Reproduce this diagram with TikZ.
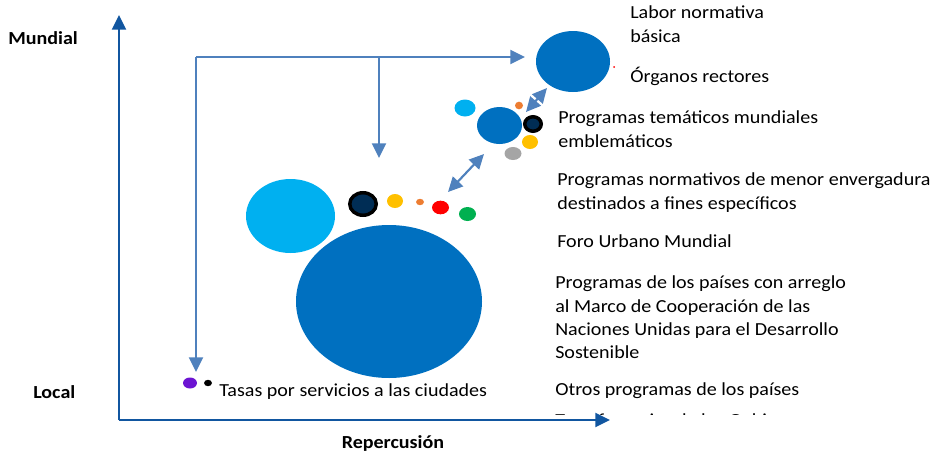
\documentclass[tikz,border=0pt]{standalone}
\usepackage{fontspec}
\setmainfont{Carlito}[FakeStretch=1.09]
\usetikzlibrary{arrows.meta,shapes.geometric}
\definecolor{axisblue}{RGB}{17,86,160}
\definecolor{connblue}{RGB}{79,129,189}
\definecolor{midblue}{RGB}{0,112,192}
\definecolor{skyblue}{RGB}{0,176,240}
\definecolor{navy}{RGB}{0,45,85}
\definecolor{orangeC}{RGB}{237,125,49}
\definecolor{yellowC}{RGB}{255,192,0}
\definecolor{grayC}{RGB}{165,165,165}
\definecolor{redC}{RGB}{255,0,0}
\definecolor{greenC}{RGB}{0,176,80}
\definecolor{purpleC}{RGB}{108,20,210}
\tikzset{
  blob/.style 2 args={ellipse, draw=none, inner sep=0pt, minimum width=#1*1.5pt, minimum height=#2*1.5pt},
  ring/.style 2 args={ellipse, draw=black, line width=2.6pt, fill=navy, inner sep=0pt, minimum width=#1*1.5pt-2.6pt, minimum height=#2*1.5pt-2.6pt},
  axis/.style={draw=axisblue, line width=1.6pt, -{Triangle[length=11pt,width=10.5pt]}},
  conn/.style={draw=connblue, line width=1.6pt, -{Triangle[length=11pt,width=10.5pt]}},
  dconn/.style={draw=connblue, line width=1.6pt, {Triangle[length=11pt,width=10.5pt]}-{Triangle[length=11pt,width=10.5pt]}},
  lbl/.style={anchor=base west, inner sep=0pt, font=\fontsize{13.8}{18}\selectfont},
  axlbl/.style={inner sep=0pt, font=\fontsize{13.8}{18}\selectfont\bfseries},
}
\begin{document}
\begin{tikzpicture}[x=0.75pt,y=-0.75pt]
\useasboundingbox (0,0) rectangle (933,454);
% axes
\coordinate (origin) at (119,420);
\coordinate (ytip) at (119,15);
\coordinate (xtip) at (610,420);
\draw[axis] (origin) -- (ytip);
\draw[axis] (origin) -- (xtip);
\node[axlbl, anchor=base west] (mundial) at (8,44) {Mundial};
\node[axlbl, anchor=base west] (local) at (33,398) {Local};
\node[axlbl, anchor=base] (reper) at (393,448) {Repercusión};
% circles
\node[blob={37}{30.5}, fill=midblue] (top) at (573,61.5) {};
\node[circle, fill=redC, inner sep=0pt, minimum size=1.5pt] (reddot) at (614,67) {};
\node[blob={22.5}{18.5}, fill=midblue] (mid) at (499.5,125.5) {};
\node[blob={10.5}{8.5}, fill=skyblue] (sky2) at (465,108) {};
\node[blob={4}{3.8}, fill=orangeC] (or2) at (519,105.5) {};
\node[ring={10}{9}] (ring2) at (533,124) {};
\node[blob={8}{7}, fill=yellowC] (ye2) at (530,142) {};
\node[blob={8.5}{6.5}, fill=grayC] (gr2) at (513,153.5) {};
\node[blob={44.5}{37}, fill=skyblue] (sky1) at (290.5,216) {};
\node[ring={15}{13}] (ring1) at (363,204) {};
\node[blob={8}{7}, fill=yellowC] (ye1) at (395,201) {};
\node[blob={4}{3.2}, fill=orangeC] (or1) at (420,202) {};
\node[blob={8.5}{6.8}, fill=redC] (red1) at (440.5,207.5) {};
\node[blob={8.5}{7}, fill=greenC] (gr1) at (467.5,214) {};
\node[blob={93}{76.5}, fill=midblue] (big) at (389,301.5) {};
\node[blob={7}{5.5}, fill=purpleC] (purp) at (190,383) {};
\node[blob={4}{3.2}, fill=black] (blk) at (208,383) {};
% connectors
\coordinate (tl) at (196,57);
\coordinate (tm) at (379,57);
\coordinate (tr) at (525,57);
\coordinate (lend) at (196,372);
\coordinate (mend) at (379,158);
\coordinate (d1a) at (526,112);
\coordinate (d1b) at (547,88);
\coordinate (d2a) at (448,192);
\coordinate (d2b) at (484,154);
\draw[conn] (tl) -- (tr);
\draw[conn] (tl) -- (lend);
\draw[conn] (tm) -- (mend);
\draw[dconn] (d1a) -- (d1b);
\draw[dconn] (d2a) -- (d2b);
% labels
\node[lbl] (l1a) at (630,18) {Labor normativa};
\node[lbl] (l1b) at (630,42) {básica};
\node[lbl] (l2) at (630,82) {Órganos rectores};
\node[lbl] (l3a) at (558,123) {Programas temáticos mundiales};
\node[lbl] (l3b) at (558,147) {emblemáticos};
\node[lbl] (l4a) at (557,185) {Programas normativos de menor envergadura};
\node[lbl] (l4b) at (557,209) {destinados a fines específicos};
\node[lbl] (l5) at (557,247) {Foro Urbano Mundial};
\node[lbl] (l6a) at (555,288) {Programas de los países con arreglo};
\node[lbl] (l6b) at (555,312) {al Marco de Cooperación de las};
\node[lbl] (l6c) at (555,335) {Naciones Unidas para el Desarrollo};
\node[lbl] (l6d) at (555,358) {Sostenible};
\node[lbl] (l7) at (555,395) {Otros programas de los países};
\node[lbl] (tasas) at (219,396) {Tasas por servicios a las ciudades};
\begin{scope}
\clip (540,400) rectangle (900,414);
\node[lbl] (l8) at (555,426) {Transferencias de los Gobiernos};
\end{scope}
\end{tikzpicture}
\end{document}
